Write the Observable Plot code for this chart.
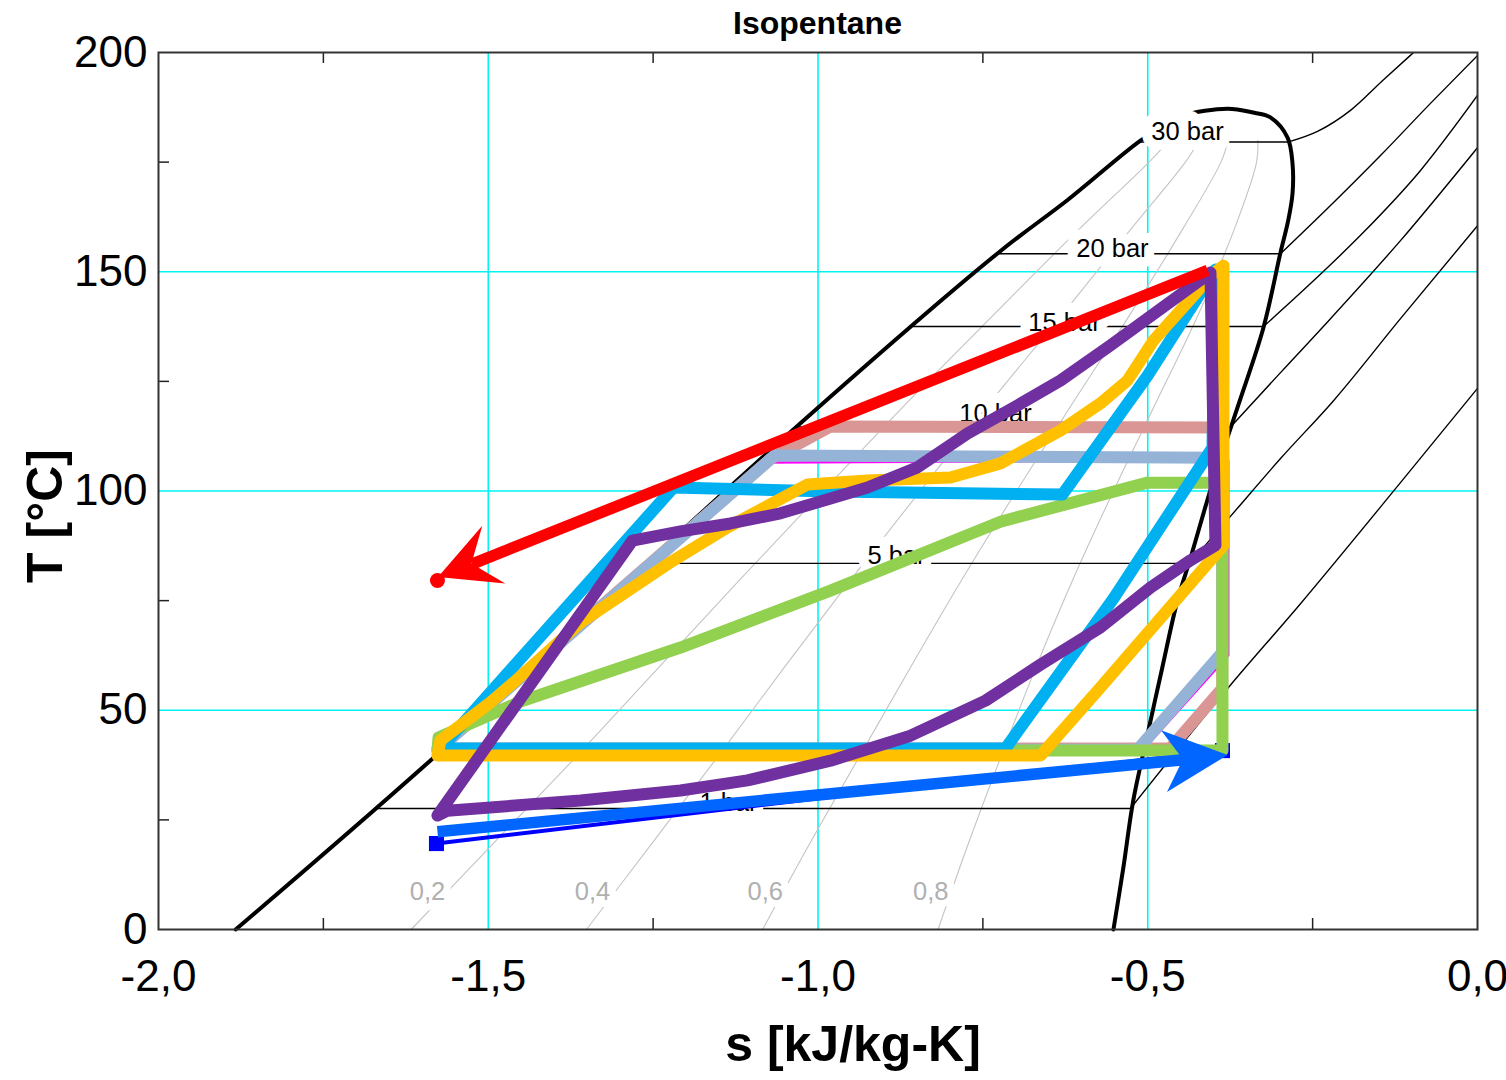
<!DOCTYPE html>
<html>
<head>
<meta charset="utf-8">
<script src="https://cdn.jsdelivr.net/npm/d3@7"></script>
<script src="https://cdn.jsdelivr.net/npm/@observablehq/plot@0.6"></script>
<style>
  body { margin: 0; background: #fff; }
  #title {
    margin-left: 158px; width: 1319px; height: 46px;
    font-family: "Liberation Sans", Arial, sans-serif; font-weight: bold; font-size: 32px;
    line-height: 46px; text-align: center; color: #000;
  }
</style>
</head>
<body>
<div id="title">Isopentane</div>
<div id="chart"></div>
<script>
// ---------- axes ----------
const sTicks = [-2, -1.5, -1, -0.5, 0];
const TTicks = [0, 50, 100, 150, 200];
const sMinor = [-1.75, -1.25, -0.75, -0.25];
const TMinor = [25, 75, 125, 175];
const gridS = [-1.5, -1, -0.5];
const gridT = [50, 100, 150];

// ---------- saturation dome [s, T] ----------
const dome = [[-1.883,0],[-1.588,38.5],[-1.027,115.4],[-0.726,154.4],[-0.622,166.3],[-0.511,179.9],
  [-0.473,183.4],[-0.446,185.6],[-0.379,187.2],[-0.340,186.3],[-0.314,185.2],[-0.288,180.6],
  [-0.2805,174.7],[-0.2805,167.8],[-0.287,161.7],[-0.299,154.2],[-0.3245,137.3],[-0.364,119.0],
  [-0.402,101.7],[-0.435,84.8],[-0.455,75.0],[-0.478,59.7],[-0.500,44.7],[-0.522,29.4],
  [-0.537,14.1],[-0.552,0]];

// ---------- isobars [s, T]: first two points = two-phase segment, rest = superheated ----------
const isobar30 = [[-0.514,179.6],[-0.2866,179.6],[-0.2426,182.0],[-0.1926,186.8],[-0.1425,193.8],[-0.097,200]];
const isobar20 = [[-0.728,154.1],[-0.2987,154.1],[-0.2229,165.1],[-0.1471,176.5],[-0.0713,188.4],[0,199.3]];
const isobar15 = [[-0.856,137.5],[-0.3245,137.5],[-0.2532,147.3],[-0.1774,158.3],[-0.0864,173.1],[0,190.2]];
const isobar10 = [[-1.033,114.6],[-0.3745,114.6],[-0.2987,127.0],[-0.2229,139.3],[-0.1168,157.1],[0,178.3]];
const isobar5  = [[-1.259,83.5],[-0.4367,83.5],[-0.3776,93.7],[-0.2987,107.4],[-0.2183,120.6],[-0.1168,139.3],[0,160.5]];
const isobar1  = [[-1.672,27.6],[-0.5262,27.6],[-0.3776,55.2],[-0.2684,74.3],[-0.1168,101.9],[0,123.4]];
const isobarLabels = [
  {s: -0.4397, T: 181.8, text: "30 bar"},
  {s: -0.5535, T: 155.3, text: "20 bar"},
  {s: -0.6262, T: 138.4, text: "15 bar"},
  {s: -0.7309, T: 117.7, text: "10 bar"},
  {s: -0.8810, T: 85.3,  text: "5 bar"},
  {s: -1.1357, T: 29.0,  text: "1 bar"}
];

// ---------- quality lines ----------
const qualityT = [0, 20, 40, 60, 80, 100, 120, 140, 160, 175, 180];
const quality02 = [-1.617,-1.490,-1.363,-1.240,-1.117,-0.992,-0.866,-0.735,-0.602,-0.498,-0.467];
const quality04 = [-1.351,-1.250,-1.149,-1.050,-0.949,-0.845,-0.740,-0.631,-0.524,-0.443,-0.422];
const quality06 = [-1.084,-1.011,-0.935,-0.859,-0.781,-0.699,-0.614,-0.528,-0.446,-0.389,-0.378];
const quality08 = [-0.818,-0.771,-0.721,-0.669,-0.613,-0.552,-0.488,-0.424,-0.368,-0.335,-0.333];
const qualityLabels = [
  {s: -1.592, T: 8.6, text: "0,2"},
  {s: -1.342, T: 8.6, text: "0,4"},
  {s: -1.080, T: 8.6, text: "0,6"},
  {s: -0.829, T: 8.6, text: "0,8"}
];

// ---------- cycles [s, T] ----------
const magenta = [[-1.583,40.5],[-1.0826,106.5],[-0.378,107.0],[-0.378,62.5],[-0.510,40.5],[-1.583,40.5]];
const rosy = [[-1.577,41.3],[-1.072,107.3],[-0.981,114.7],[-0.387,114.5],[-0.387,55.0],[-0.466,41.3],[-1.577,41.3]];
const lightBlue = [[-1.577,40.8],[-1.066,108.1],[-0.387,107.6],[-0.387,63.2],[-0.5155,41.0],[-1.577,40.8]];
const green = [[-1.577,40.8],[-1.5754,43.8],[-1.4511,52.0],[-1.2085,64.3],[-0.981,77.3],[-0.7233,93.0],
  [-0.5004,101.9],[-0.3867,101.9],[-0.3867,40.8],[-1.577,40.8]];
const cyan = [[-1.5724,41.3],[-1.2191,100.8],[-0.981,99.9],[-0.6293,99.2],[-0.5004,126.3],[-0.3973,150.5],
  [-0.4018,109.9],[-0.5519,75.5],[-0.7157,41.3],[-1.5724,41.3]];
const yellow = [[-1.577,39.7],[-1.5724,43.1],[-1.4966,51.8],[-1.4617,56.3],[-1.3601,70.0],[-1.2191,84.2],
  [-1.1372,91.7],[-1.0159,101.5],[-0.9249,102.4],[-0.7991,103.1],[-0.7233,106.3],[-0.6323,113.8],
  [-0.5716,120.0],[-0.5307,125.2],[-0.4913,134.3],[-0.4018,149.4],[-0.3852,151.4],[-0.3852,87.6],
  [-0.5716,55.2],[-0.6626,39.7],[-1.577,39.7]];
const purple = [[-1.577,26.0],[-1.2813,88.7],[-1.2085,90.8],[-1.1327,92.6],[-1.0569,94.9],[-0.981,98.3],
  [-0.9249,100.8],[-0.8491,105.4],[-0.7733,113.1],[-0.7036,119.0],[-0.6323,125.2],[-0.5565,133.2],
  [-0.4049,149.8],[-0.3973,87.6],[-0.4352,84.2],[-0.4958,78.0],[-0.5716,68.9],[-0.6626,60.4],
  [-0.746,52.2],[-0.8597,44.2],[-0.981,38.5],[-1.1069,34.0],[-1.2085,31.7],[-1.3601,29.4],
  [-1.5618,27.1],[-1.577,26.0]];
const darkBlue = [[-1.5785,19.6],[-0.3867,40.8]];
const blueArrow = {tail: [-1.577,22.3], tip: [-0.378,39.7]};
const redArrow = {tail: [-0.409,150.3], tip: [-1.5754,80.3]};
const redDot = [[-1.577,79.6]];

// ---------- helpers ----------
const FONT = '"Liberation Sans", Arial, Helvetica, sans-serif';
const px = d => d[0], py = d => d[1];
const fmtS = d => d.toFixed(1).replace(".", ",");
const qualityLine = q => qualityT.map((T, i) => [q[i], T]);
const isobars = [isobar30, isobar20, isobar15, isobar10, isobar5, isobar1];

function arrowHead(arrow, color, len, hw, notch) {
  return (index, scales) => {
    const X = scales.x, Y = scales.y;
    const x1 = X(arrow.tail[0]), y1 = Y(arrow.tail[1]);
    const x2 = X(arrow.tip[0]), y2 = Y(arrow.tip[1]);
    const L = Math.hypot(x2 - x1, y2 - y1);
    const ux = (x2 - x1) / L, uy = (y2 - y1) / L;
    const nx = -uy, ny = ux;
    const bx = x2 - ux * len, by = y2 - uy * len;
    const p = [[x2, y2], [bx + nx * hw, by + ny * hw], [x2 - ux * notch, y2 - uy * notch], [bx - nx * hw, by - ny * hw]];
    const path = document.createElementNS("http://www.w3.org/2000/svg", "path");
    path.setAttribute("d", "M" + p.map(q => q[0].toFixed(2) + "," + q[1].toFixed(2)).join("L") + "Z");
    path.setAttribute("fill", color);
    return path;
  };
}
function shaft(arrow, color, insetEnd) {
  return Plot.arrow([arrow], {
    x1: d => d.tail[0], y1: d => d.tail[1], x2: d => d.tip[0], y2: d => d.tip[1],
    headLength: 0, insetEnd, stroke: color, strokeWidth: 11.5, strokeLinecap: "butt"
  });
}
const cycle = (data, color, w = 12) => Plot.line(data, {x: px, y: py, stroke: color, strokeWidth: w, strokeLinejoin: "round", strokeLinecap: "round"});

const chart = Plot.plot({
  width: 1506, height: 1034,
  marginTop: 6, marginBottom: 151, marginLeft: 158, marginRight: 29,
  x: {domain: [-2, 0]},
  y: {domain: [0, 200]},
  style: {fontFamily: FONT, background: "white", overflow: "visible", color: "black"},
  marks: [
    Plot.ruleX(gridS, {stroke: "#00f4f4", strokeWidth: 1.6}),
    Plot.ruleY(gridT, {stroke: "#00f4f4", strokeWidth: 1.6}),
    ...[quality02, quality04, quality06, quality08].map(q =>
      Plot.line(qualityLine(q), {x: px, y: py, stroke: "#c4c4c4", strokeWidth: 1.1, curve: "catmull-rom"})),
    ...isobars.map(b =>
      Plot.line(b.slice(0, 2), {x: px, y: py, stroke: "black", strokeWidth: 1.4})),
    ...isobars.map(b =>
      Plot.line(b.slice(1), {x: px, y: py, stroke: "black", strokeWidth: 1.4, curve: "monotone-x", clip: true})),
    Plot.line(dome, {x: px, y: py, stroke: "black", strokeWidth: 4, curve: "catmull-rom"}),
    Plot.text(isobarLabels, {x: "s", y: "T", text: "text", fontSize: 25.5, fill: "black",
      stroke: "white", strokeWidth: 20, paintOrder: "stroke", lineAnchor: "middle"}),
    Plot.text(qualityLabels, {x: "s", y: "T", text: "text", fontSize: 25.5, fill: "#b0b0b0",
      stroke: "white", strokeWidth: 14, paintOrder: "stroke", lineAnchor: "middle"}),
    cycle(magenta, "#ff00ff", 2.5),
    Plot.line(darkBlue, {x: px, y: py, stroke: "#0000ff", strokeWidth: 4}),
    Plot.dot(darkBlue, {x: px, y: py, symbol: "square", r: 8.5, fill: "#0000ff"}),
    cycle(rosy, "#d99694"),
    cycle(lightBlue, "#95b3d7"),
    cycle(green, "#92d050"),
    cycle(cyan, "#00b0f0"),
    cycle(yellow, "#ffc000"),
    cycle(purple, "#7030a0"),
    shaft(blueArrow, "#0066ff", 45),
    arrowHead(blueArrow, "#0066ff", 64, 31, 45),
    shaft(redArrow, "#ff0000", 36),
    arrowHead(redArrow, "#ff0000", 60, 31, 36),
    Plot.dot(redDot, {x: px, y: py, r: 7.5, fill: "#ff0000"}),
    Plot.tickX(sMinor, {x: d => d, insetTop: 866, stroke: "#222", strokeWidth: 1.5}),
    Plot.tickX(sMinor, {x: d => d, insetBottom: 866, stroke: "#222", strokeWidth: 1.5}),
    Plot.tickY(TMinor, {y: d => d, insetRight: 1308, stroke: "#222", strokeWidth: 1.5}),
    Plot.frame({stroke: "#333", strokeWidth: 2}),
    Plot.axisX({ticks: sTicks, tickSize: 0, tickPadding: 30, fontSize: 44, tickFormat: fmtS, label: null, fill: "black"}),
    Plot.axisY({ticks: TTicks, tickSize: 0, tickPadding: 11, fontSize: 44, label: null, fill: "black"}),
    Plot.text(["s [kJ/kg-K]"], {frameAnchor: "bottom", dx: 35, dy: 115, lineAnchor: "middle", textAnchor: "middle",
      fontSize: 50, fontWeight: "bold", fill: "black"}),
    Plot.text(["T [°C]"], {frameAnchor: "left", dx: -113, dy: 25, rotate: -90, lineAnchor: "middle", textAnchor: "middle",
      fontSize: 50, fontWeight: "bold", fill: "black"})
  ]
});
document.getElementById("chart").appendChild(chart);
</script>
</body>
</html>
